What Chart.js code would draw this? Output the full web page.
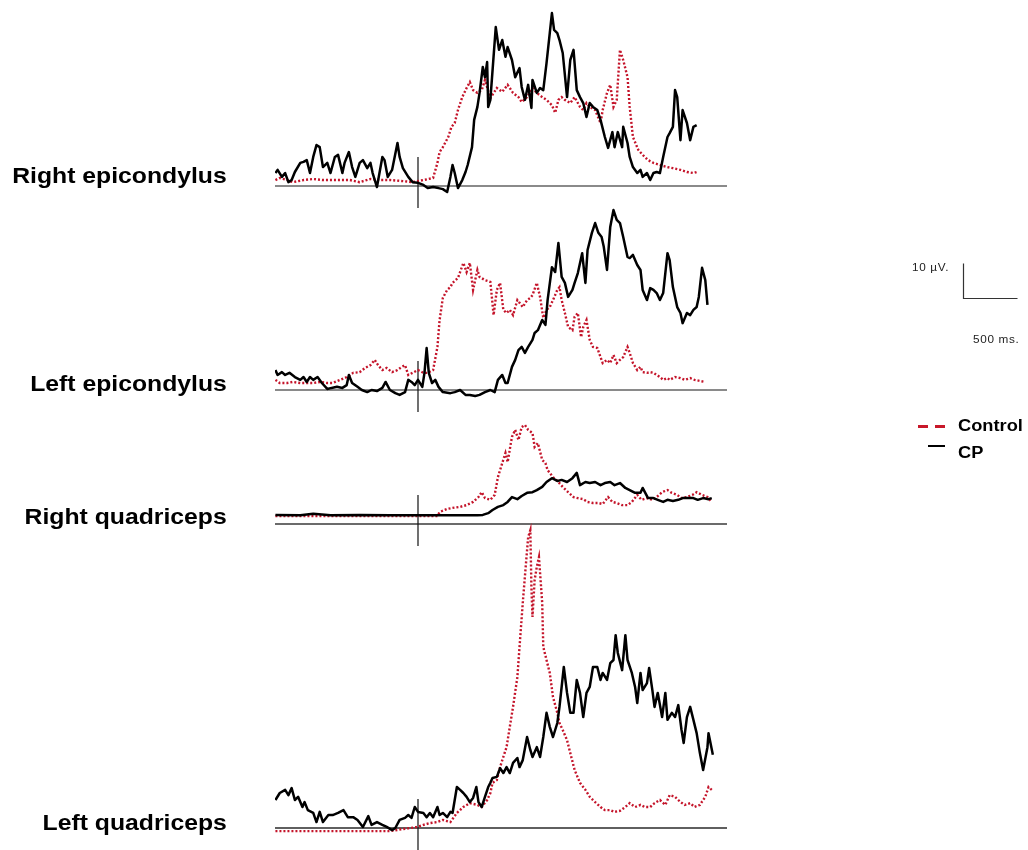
<!DOCTYPE html>
<html>
<head>
<meta charset="utf-8">
<title>EMG traces</title>
<script src="https://cdn.jsdelivr.net/npm/chart.js@4.4.1/dist/chart.umd.min.js"></script>
<style>
  html, body { margin: 0; padding: 0; background: #fff; }
  #stage { position: relative; width: 1028px; height: 850px; overflow: hidden;
           font-family: "Liberation Sans", Arial, Helvetica, sans-serif; color: #000; }
  #emg { position: absolute; left: 0; top: 0; }
  .muscle { position: absolute; right: 801px; font-size: 22px; line-height: 22px;
            font-weight: bold; white-space: nowrap;
            transform: scaleX(1.125); transform-origin: right center; }
  .bar-label { position: absolute; font-size: 10.5px; line-height: 10.5px;
               letter-spacing: 0.6px; color: #222; white-space: nowrap;
               transform: scaleX(1.12); transform-origin: left center; }
  .key-text { position: absolute; left: 958px; font-size: 16px; line-height: 16px;
              font-weight: bold; white-space: nowrap;
              transform: scaleX(1.14); transform-origin: left center; }
  .key-mark { position: absolute; }
</style>
</head>
<body>
<div id="stage">
  <canvas id="emg" width="1028" height="850"></canvas>

  <div class="muscle" style="top:165px">Right epicondylus</div>
  <div class="muscle" style="top:373px">Left epicondylus</div>
  <div class="muscle" style="top:506px">Right quadriceps</div>
  <div class="muscle" style="top:812px">Left quadriceps</div>

  <div class="bar-label" style="left:912px; top:262px">10 µV.</div>
  <div class="bar-label" style="left:973px; top:334px">500 ms.</div>

  <div class="key-mark" style="left:918px; top:425px; width:10px; height:3px; background:#c8182a"></div>
  <div class="key-mark" style="left:935px; top:425px; width:10px; height:3px; background:#c8182a"></div>
  <div class="key-text" style="top:418px">Control</div>
  <div class="key-mark" style="left:928px; top:445px; width:17px; height:2px; background:#000"></div>
  <div class="key-text" style="top:445px">CP</div>
</div>

<script>
// Time (ms, relative to the stimulus at 0) and amplitude (µV) of each averaged envelope.

// Right epicondylus
const reCpMs = [-1320,-1300,-1260,-1230,-1200,-1170,-1140,-1090,-1060,-1030,-1000,-970,-940,-910,-880,-840,-810,-770,-740,-700,-680,-640,-610,-580,-540,-510,-470,-440,-420,-380,-330,-310,-280,-240,-190,-170,-140,-90,-50,0,50,90,140,190,230,270,300,320,340,370,410,440,460,500,520,550,570,600,620,640,650,670,720,750,780,810,830,870,900,940,960,990,1020,1050,1060,1100,1130,1160,1190,1220,1240,1260,1290,1310,1340,1380,1410,1440,1470,1500,1530,1560,1590,1620,1660,1690,1730,1760,1800,1820,1850,1890,1900,1940,1960,1990,2030,2060,2080,2120,2150,2180,2210,2240,2270,2310,2330,2360,2380,2400,2430,2450,2490,2520,2550,2580];
const reCpUv = [3.7,4.6,2.6,3.7,1.1,1.7,4.0,6.6,6.9,7.4,3.7,8.3,11.7,11.1,5.4,6.6,3.7,8.3,8.9,3.7,6.6,9.7,5.4,2.6,6.6,7.4,5.1,6.6,3.7,-0.3,8.3,7.4,2.6,4.6,12.3,8.3,5.1,2.6,1.1,0.9,0.3,-0.6,-0.3,-0.6,-0.9,-1.7,2.6,6.0,3.7,-0.6,1.7,4.0,6.0,11.1,18.9,22.6,26.6,34.0,31.1,35.4,22.6,24.6,45.4,38.9,41.7,36.9,39.7,36.0,31.1,33.7,28.3,24.6,28.9,22.3,30.3,26.6,28.0,27.4,35.1,43.7,49.4,44.6,43.7,41.7,38.0,25.4,36.0,38.9,27.4,25.4,23.7,19.7,23.7,22.6,21.7,18.9,14.0,10.9,15.4,11.1,15.4,11.1,16.9,12.3,8.3,5.4,3.7,4.6,2.6,3.7,1.7,3.7,4.0,3.7,8.3,14.0,15.1,16.9,27.4,25.4,13.1,21.7,18.0,13.1,16.9,17.4];
const reCtMs = [-1320,-1280,-1210,-1160,-1060,-970,-880,-750,-630,-540,-440,-350,-260,-140,-50,50,140,180,200,230,280,310,340,370,410,450,480,510,550,590,620,670,730,780,830,880,930,960,1010,1060,1100,1150,1190,1240,1270,1300,1330,1360,1410,1450,1500,1530,1560,1590,1640,1690,1710,1750,1780,1810,1840,1870,1900,1940,1960,1990,2040,2080,2130,2180,2240,2310,2360,2430,2490,2550,2580];
const reCtUv = [1.7,2.3,1.7,1.1,1.7,2.0,1.7,1.7,1.7,1.1,2.0,1.7,1.7,1.4,1.1,1.7,2.3,6.6,9.7,11.1,14.0,16.9,18.0,21.7,25.4,28.0,29.7,27.4,26.6,27.4,30.3,25.1,28.0,26.9,28.9,26.6,25.4,24.0,25.4,28.0,26.6,25.4,24.6,23.1,20.9,24.6,25.4,24.6,23.7,25.4,22.6,21.7,23.7,22.6,21.7,18.0,21.7,26.6,28.9,22.6,24.6,38.9,36.0,31.1,22.6,14.0,10.3,8.9,7.4,6.6,6.0,5.4,5.1,4.6,4.0,3.7,4.0];

// Left epicondylus
const leCpMs = [-1320,-1300,-1260,-1230,-1190,-1140,-1090,-1060,-1030,-1000,-970,-930,-890,-840,-800,-750,-700,-660,-640,-610,-560,-520,-470,-430,-380,-330,-300,-260,-210,-170,-120,-90,-60,-30,0,40,60,80,100,130,160,190,230,300,340,390,440,480,530,570,620,670,710,740,780,810,830,870,900,930,960,990,1020,1060,1080,1110,1150,1180,1200,1240,1270,1300,1330,1360,1390,1430,1450,1480,1520,1550,1570,1610,1640,1670,1700,1720,1750,1780,1810,1840,1870,1900,1940,1960,1990,2030,2060,2080,2120,2150,2180,2210,2240,2270,2310,2330,2360,2400,2430,2450,2490,2520,2550,2580,2600,2630,2660,2680];
const leCpUv = [5.7,4.3,5.1,4.3,4.9,3.7,2.9,3.7,2.3,3.7,2.9,3.7,2.0,0.3,0.6,0.9,0.6,1.4,4.3,2.0,0.9,0,-0.6,0,-0.3,0.6,2.3,0,-0.9,-1.4,-0.6,2.9,2.3,1.4,2.9,0.9,4.9,12.0,4.9,2.0,2.9,0.9,-0.6,-0.9,-0.6,0,-1.4,-1.4,-1.7,-1.4,-0.6,0,-0.6,2.9,4.3,2.0,2.0,6.6,8.6,11.4,12.3,10.6,12.3,14.3,16.3,17.1,20.0,18.6,25.7,35.1,33.7,42.0,32.3,30.6,26.6,28.6,30.6,33.4,39.1,30.6,40.0,44.9,47.7,44.9,43.7,40.9,34.3,46.6,51.4,48.6,47.7,43.7,38.0,37.7,38.6,35.7,34.3,28.6,25.7,29.1,28.6,27.7,25.7,27.7,39.1,37.1,29.4,23.7,22.0,19.1,22.0,21.4,22.9,23.7,26.6,34.9,31.4,24.3];
const leCtMs = [-1320,-1280,-1210,-1160,-1090,-1030,-970,-910,-840,-790,-720,-660,-600,-540,-490,-440,-400,-370,-330,-290,-240,-190,-150,-120,-90,-50,0,50,90,140,180,200,230,270,300,320,370,420,450,480,510,550,570,620,670,700,730,760,790,820,850,880,920,940,970,1010,1040,1060,1100,1130,1160,1190,1220,1250,1290,1310,1330,1360,1390,1430,1450,1480,1510,1530,1560,1590,1620,1660,1690,1710,1750,1780,1810,1840,1870,1900,1940,1960,1990,2030,2060,2080,2120,2150,2180,2210,2240,2270,2310,2330,2380,2430,2470,2520,2560,2610,2660];
const leCtUv = [2.9,2.0,2.0,2.3,2.0,2.0,2.0,2.3,2.0,2.0,2.9,3.7,4.9,5.1,6.3,7.1,8.6,7.1,5.7,6.3,5.1,5.7,6.6,7.1,4.3,4.9,5.7,4.9,4.9,5.7,12.3,20.0,26.3,28.6,29.4,30.6,32.0,36.3,33.7,36.3,28.6,34.3,32.3,31.4,30.9,21.4,28.6,30.6,22.9,22.0,22.9,21.4,25.7,24.9,23.7,25.7,26.3,27.1,30.6,26.6,20.6,22.9,23.7,25.7,28.6,29.4,25.7,22.0,18.0,17.1,20.9,22.0,15.1,18.0,20.0,14.3,12.3,12.0,9.4,7.7,8.6,7.7,10.0,7.7,8.6,9.4,12.3,10.6,7.7,5.7,6.6,5.1,4.9,5.1,4.9,4.3,3.7,2.9,3.4,2.9,3.7,3.4,2.9,3.4,2.9,2.6,2.3];

// Right quadriceps
const rqCpMs = [-1320,-1090,-970,-810,-540,-260,0,200,390,550,600,650,690,740,790,830,870,920,960,1010,1060,1100,1150,1190,1240,1290,1330,1380,1430,1470,1500,1550,1590,1640,1690,1730,1780,1820,1870,1920,1960,2010,2060,2080,2130,2180,2220,2270,2310,2360,2410,2450,2500,2550,2590,2640,2690,2720];
const rqCpUv = [2.6,2.5,2.9,2.5,2.6,2.5,2.5,2.5,2.5,2.5,2.6,3.1,4.0,4.9,5.4,6.3,7.7,7.1,8.0,8.9,9.1,9.7,10.6,12.0,13.1,12.3,12.6,12.0,13.1,14.6,11.1,12.0,11.7,12.0,11.1,11.7,12.0,11.1,11.7,10.3,9.7,8.9,8.9,10.3,7.4,7.4,6.9,6.3,6.9,6.6,6.9,7.4,7.4,7.4,6.9,7.4,7.1,7.4];
const rqCtMs = [-1320,-910,-540,-170,180,200,270,320,390,450,510,560,590,620,670,710,740,780,810,830,870,900,930,960,990,1020,1060,1080,1110,1150,1180,1200,1250,1300,1340,1390,1440,1480,1530,1570,1620,1670,1710,1760,1800,1840,1890,1940,1980,2030,2070,2120,2170,2210,2260,2310,2350,2400,2440,2490,2540,2580,2630,2680,2720];
const rqCtUv = [2.3,2.3,2.3,2.3,2.3,3.4,4.3,4.6,4.9,5.4,6.3,7.7,9.1,7.4,6.9,8.3,13.4,17.4,20.3,17.7,24.9,26.9,24.0,27.7,28.3,26.9,26.0,22.0,23.1,18.3,17.4,15.4,13.4,12.0,10.6,9.1,7.7,7.4,7.1,6.3,6.0,6.0,5.7,7.7,6.3,6.0,5.4,5.4,6.3,8.3,6.9,7.4,6.9,7.7,9.1,9.7,8.9,8.3,7.4,7.7,8.3,9.1,8.3,7.7,6.3];

// Left quadriceps
const lqCpMs = [-1320,-1280,-1230,-1200,-1170,-1140,-1110,-1070,-1050,-1020,-970,-940,-910,-880,-830,-790,-740,-690,-650,-600,-560,-510,-460,-430,-380,-330,-290,-240,-210,-170,-120,-90,-60,-30,0,50,80,110,140,180,200,230,270,300,320,360,390,420,450,480,510,540,560,590,620,650,670,690,730,760,790,820,850,880,920,940,970,1010,1040,1060,1100,1130,1160,1190,1220,1250,1290,1310,1350,1380,1410,1440,1470,1500,1530,1560,1590,1620,1660,1690,1710,1750,1780,1810,1830,1850,1890,1920,1940,1980,2010,2030,2060,2080,2120,2140,2170,2190,2220,2260,2290,2310,2350,2380,2410,2440,2460,2490,2520,2550,2580,2610,2640,2680,2690,2730];
const lqCpUv = [8.0,10.0,10.9,9.4,11.4,8.0,8.9,6.0,7.4,5.1,4.3,1.7,4.6,1.7,3.7,3.7,4.3,5.1,3.1,3.1,2.3,0.3,3.4,0.9,1.7,0.9,0.3,-0.6,0,2.3,2.9,3.7,2.9,6.0,4.6,4.3,3.1,4.3,3.1,6.0,3.7,4.3,3.1,4.6,4.3,11.7,10.9,10.0,8.9,7.4,8.6,11.7,7.4,6.0,8.9,11.7,12.9,14.3,14.6,17.1,15.7,17.4,15.7,18.6,20.0,17.4,19.4,26.0,22.3,20.3,23.1,20.3,26.0,32.9,28.9,26.0,30.0,34.6,46.0,38.6,32.9,32.9,42.3,38.6,31.7,38.6,40.3,46.0,46.0,42.3,44.3,42.3,47.1,48.0,55.1,50.0,45.1,55.1,48.0,44.3,40.3,35.7,44.3,39.4,41.4,45.7,39.4,34.6,38.6,31.7,38.6,30.9,32.9,31.7,35.1,28.0,24.3,31.7,34.6,30.9,27.1,21.4,16.6,23.1,27.1,20.9];
const lqCtMs = [-1320,-1090,-810,-540,-260,-140,-70,-10,50,110,180,230,300,360,420,480,550,590,640,670,690,730,760,790,820,850,880,920,940,970,1000,1020,1040,1050,1060,1080,1100,1120,1150,1160,1190,1220,1250,1290,1310,1340,1380,1410,1450,1500,1550,1590,1640,1690,1730,1780,1820,1870,1920,1960,2010,2060,2100,2150,2190,2240,2290,2330,2380,2430,2470,2520,2560,2610,2660,2690,2720];
const lqCtUv = [-0.9,-0.9,-0.9,-0.9,-0.9,-0.3,0,0.3,0.9,1.4,1.7,2.3,1.7,4.3,6.0,7.1,6.6,6.0,8.0,10.0,12.9,13.7,17.4,20.3,23.1,28.9,34.6,43.1,51.7,64.3,75.7,83.1,85.1,68.9,60.3,70.9,74.6,77.4,64.3,51.7,48.0,44.3,37.4,32.9,30.0,28.0,25.1,21.4,16.6,12.9,10.9,8.9,7.4,6.0,5.1,5.1,4.6,4.9,6.0,7.1,6.0,6.6,6.0,6.0,7.1,8.0,6.6,9.4,8.9,7.4,6.6,7.1,6.0,6.6,8.9,11.7,10.9];

// Scale bar values
const barUv = 10;
const barMs = 500;

// ---- layout ----
const W = 1028, H = 850;
const PX_PER_UV = 3.5;              // vertical gain shared by all four traces
const plotLeft = 275, plotRight = 727;
const timeMin = -1324, timeMax = 2861;
const CONTROL_RED = '#c4142a';

// each muscle gets its own hidden y axis; "base" is the pixel row of its zero line
const panels = [
  { axis: 'yRE', base: 186, lineColor: '#8a8a8a', lineWidth: 2,   cp: [reCpMs, reCpUv], ct: [reCtMs, reCtUv] },
  { axis: 'yLE', base: 390, lineColor: '#8a8a8a', lineWidth: 2,   cp: [leCpMs, leCpUv], ct: [leCtMs, leCtUv] },
  { axis: 'yRQ', base: 524, lineColor: '#3a3a3a', lineWidth: 1.4, cp: [rqCpMs, rqCpUv], ct: [rqCtMs, rqCtUv] },
  { axis: 'yLQ', base: 828, lineColor: '#2a2a2a', lineWidth: 1.5, cp: [lqCpMs, lqCpUv], ct: [lqCtMs, lqCtUv] }
];

const toPoints = (ms, uv) => ms.map((t, i) => ({ x: t, y: uv[i] }));

const datasets = [];
const scales = {
  x: { type: 'linear', min: timeMin, max: timeMax, display: false }
};

panels.forEach(p => {
  scales[p.axis] = {
    type: 'linear', display: false,
    min: -(H - p.base) / PX_PER_UV,
    max: p.base / PX_PER_UV
  };
  datasets.push({
    label: 'CP', data: toPoints(p.cp[0], p.cp[1]), yAxisID: p.axis,
    borderColor: '#000', borderWidth: 2.5, borderJoinStyle: 'round',
    pointRadius: 0, tension: 0, order: 0
  });
  datasets.push({
    label: 'Control', data: toPoints(p.ct[0], p.ct[1]), yAxisID: p.axis,
    borderColor: CONTROL_RED, borderWidth: 2.4, borderDash: [2, 2],
    pointRadius: 0, tension: 0, order: 1
  });
});

// zero lines, stimulus markers and the calibration bar
const emgFrame = {
  id: 'emgFrame',
  beforeDatasetsDraw(chart) {
    const { ctx, chartArea, scales: s } = chart;
    const x0 = s.x.getPixelForValue(0);
    ctx.save();
    panels.forEach(p => {
      const ys = s[p.axis];
      const yZero = ys.getPixelForValue(0);
      ctx.strokeStyle = p.lineColor;
      ctx.lineWidth = p.lineWidth;
      ctx.beginPath();
      ctx.moveTo(chartArea.left, yZero);
      ctx.lineTo(chartArea.right, yZero);
      ctx.stroke();

      ctx.strokeStyle = '#111';
      ctx.lineWidth = 1.2;
      ctx.beginPath();
      ctx.moveTo(x0, ys.getPixelForValue(8.3));
      ctx.lineTo(x0, ys.getPixelForValue(-6.3));
      ctx.stroke();
    });
    ctx.restore();
  },
  afterDraw(chart) {
    const { ctx, scales: s } = chart;
    const ys = s.yLE;
    const h = ys.getPixelForValue(0) - ys.getPixelForValue(barUv);
    const w = s.x.getPixelForValue(barMs) - s.x.getPixelForValue(0);
    const cornerX = 963.5, cornerY = 298.5;
    ctx.save();
    ctx.strokeStyle = '#333';
    ctx.lineWidth = 1.2;
    ctx.beginPath();
    ctx.moveTo(cornerX, cornerY - h);
    ctx.lineTo(cornerX, cornerY);
    ctx.lineTo(cornerX + w, cornerY);
    ctx.stroke();
    ctx.restore();
  }
};

new Chart(document.getElementById('emg'), {
  type: 'line',
  data: { datasets },
  options: {
    responsive: false,
    animation: false,
    events: [],
    layout: { padding: { left: plotLeft, right: W - plotRight, top: 0, bottom: 0 } },
    scales,
    plugins: { legend: { display: false }, tooltip: { enabled: false } }
  },
  plugins: [emgFrame]
});
</script>
</body>
</html>
